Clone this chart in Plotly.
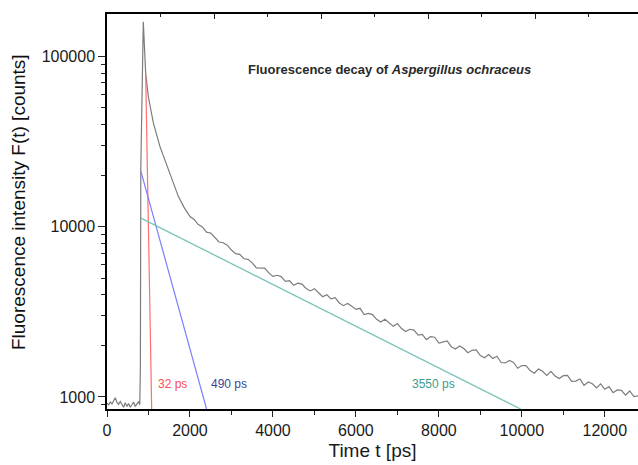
import numpy as np
import plotly.graph_objects as go

# ---- data: measured decay curve (time in ps, counts) ----
t_rise = [0, 40, 80, 120, 160, 200, 240, 280, 320, 360, 400, 440, 480, 520, 560, 600,
          640, 680, 720, 760, 790, 805, 815, 845, 875, 899, 932, 996, 1117, 1277, 1478,
          1719, 1850]
f_rise = [920, 900, 935, 910, 950, 990, 930, 905, 940, 895, 870, 925, 880, 915, 870, 900,
          935, 880, 905, 940, 900, 1500, 22000, 80000, 160000, 120000, 80000, 58300, 40800,
          29600, 21600, 15100, 13100]

t_tail = list(range(2000, 12801, 100))
f_tail = [11500, 11050, 10300, 9990, 9310, 9200, 8650, 8140, 8060, 7800,
          7300, 6950, 6890, 6490, 6440, 6140, 5730, 5700, 5720, 5360,
          5110, 5190, 5100, 4780, 4820, 4530, 4660, 4610, 4340, 4200,
          4330, 4100, 3880, 3990, 3770, 3830, 3570, 3440, 3540, 3410,
          3270, 3320, 3050, 3100, 3050, 2860, 2760, 2860, 2740, 2600,
          2700, 2525, 2425, 2500, 2470, 2310, 2330, 2175, 2265, 2245,
          2075, 2095, 2135, 1975, 1915, 1995, 1925, 1820, 1880, 1890,
          1750, 1700, 1775, 1685, 1735, 1595, 1585, 1640, 1595, 1475,
          1530, 1530, 1430, 1380, 1460, 1415, 1340, 1415, 1330, 1285,
          1335, 1340, 1235, 1240, 1275, 1170, 1225, 1195, 1130, 1195,
          1110, 1150, 1060, 1100, 1095, 1025, 1085, 1005, 1015]

t_data = t_rise + t_tail
f_data = f_rise + f_tail

# ---- fitted exponential components (straight lines on log scale) ----
t_c1 = [932, 1077];  f_c1 = [80000, 850]     # 32 ps
t_c2 = [819, 2400];  f_c2 = [21100, 850]     # 490 ps
t_c3 = [819, 9970];  f_c3 = [11250, 850]     # 3550 ps

comp_labels = ["32 ps", "490 ps", "3550 ps"]
comp_label_t = [1570, 2940, 7870]
comp_label_f = [1190, 1190, 1190]

x_range = [0, 12800]
x_ticks = [0, 2000, 4000, 6000, 8000, 10000, 12000]
x_minor = [1000, 3000, 5000, 7000, 9000, 11000]
top_ticks = [0, 2, 4, 6, 8]
top_minor = [1, 3, 5, 7, 9]
top_range = [0, 9.92]
y_range = [850, 178000]
y_ticks = [1000, 10000, 100000]
y_tick_text = ["1000", "10000", "100000"]
y_minor = [900] + [m * d for d in (1000, 10000) for m in range(2, 10)]

FONT = "Liberation Sans, Arial, sans-serif"

fig = go.Figure()
fig.add_trace(go.Scatter(x=t_data, y=f_data, mode="lines",
                         line=dict(color="#7c7c7c", width=1.2), showlegend=False))
fig.add_trace(go.Scatter(x=t_c1, y=f_c1, mode="lines",
                         line=dict(color="#ff6f6f", width=1.2), showlegend=False))
fig.add_trace(go.Scatter(x=t_c2, y=f_c2, mode="lines",
                         line=dict(color="#7d7dff", width=1.2), showlegend=False))
fig.add_trace(go.Scatter(x=t_c3, y=f_c3, mode="lines",
                         line=dict(color="#74c6ba", width=1.3), showlegend=False))
# transparent helper trace so that the top frame axis gets drawn
fig.add_trace(go.Scatter(x=top_range, y=y_range, xaxis="x2", yaxis="y", mode="lines",
                         opacity=0, showlegend=False, hoverinfo="skip"))

label_colors = ["#ff4d4d", "#3f3f9a", "#3a9d8f"]
for txt, tx, fy, col in zip(comp_labels, comp_label_t, comp_label_f, label_colors):
    fig.add_annotation(x=tx, y=np.log10(fy), xref="x", yref="y", text=txt,
                       showarrow=False, font=dict(family=FONT, size=12, color=col))

fig.add_annotation(x=0.532, y=0.8835, xref="paper", yref="paper", xanchor="center",
                   text="<b>Fluorescence decay of <i>Aspergillus ochraceus</i></b>",
                   showarrow=False, font=dict(family=FONT, size=13, color="#2a2a2a"))

fig.add_annotation(x=-0.1676, y=0.524, xref="paper", yref="paper", textangle=-90,
                   xanchor="center", yanchor="middle",
                   text="Fluorescence intensity F(t) [counts]", showarrow=False,
                   font=dict(family=FONT, size=19, color="#111"))

fig.update_layout(
    width=638, height=465,
    margin=dict(l=107, r=0, t=14, b=56, autoexpand=False),
    paper_bgcolor="white", plot_bgcolor="white",
    font=dict(family=FONT, size=16, color="#1a1a1a"),
    xaxis=dict(range=x_range, tickvals=x_ticks, tickformat="d", showgrid=False,
               zeroline=False, automargin=False,
               showline=True, linecolor="black", linewidth=1.5,
               ticks="outside", ticklen=6, tickwidth=1.3, tickcolor="#222",
               minor=dict(tickvals=x_minor, ticks="outside", ticklen=4, tickcolor="#222"),
               tickfont=dict(size=16),
               title=dict(text="Time t [ps]", font=dict(size=19), standoff=6)),
    xaxis2=dict(range=top_range, overlaying="x", side="top", anchor="y",
                tickvals=top_ticks,
                showgrid=False, zeroline=False, showline=True, linecolor="black",
                linewidth=1.5, ticks="inside", ticklen=5, tickwidth=1.3, tickcolor="#222",
                minor=dict(tickvals=top_minor, ticks="inside", ticklen=3, tickcolor="#222"),
                showticklabels=False, automargin=False),
    yaxis=dict(type="log", range=[np.log10(y_range[0]), np.log10(y_range[1])],
               tickvals=y_ticks, ticktext=y_tick_text, showgrid=False, zeroline=False,
               automargin=False,
               showline=True, linecolor="black", linewidth=1.5,
               ticks="outside", ticklen=7, tickwidth=1.3, tickcolor="#222",
               minor=dict(tickvals=y_minor, ticks="outside", ticklen=4, tickcolor="#222"),
               tickfont=dict(size=16)),
)
fig.write_html("out.html", config={"displayModeBar": False})

# remove the browser's default 8px body margin so the figure sits at (0,0)
with open("out.html", encoding="utf-8") as fh:
    html = fh.read()
html = html.replace("<body>", '<body style="margin:0;padding:0;overflow:hidden">', 1)
with open("out.html", "w", encoding="utf-8") as fh:
    fh.write(html)
